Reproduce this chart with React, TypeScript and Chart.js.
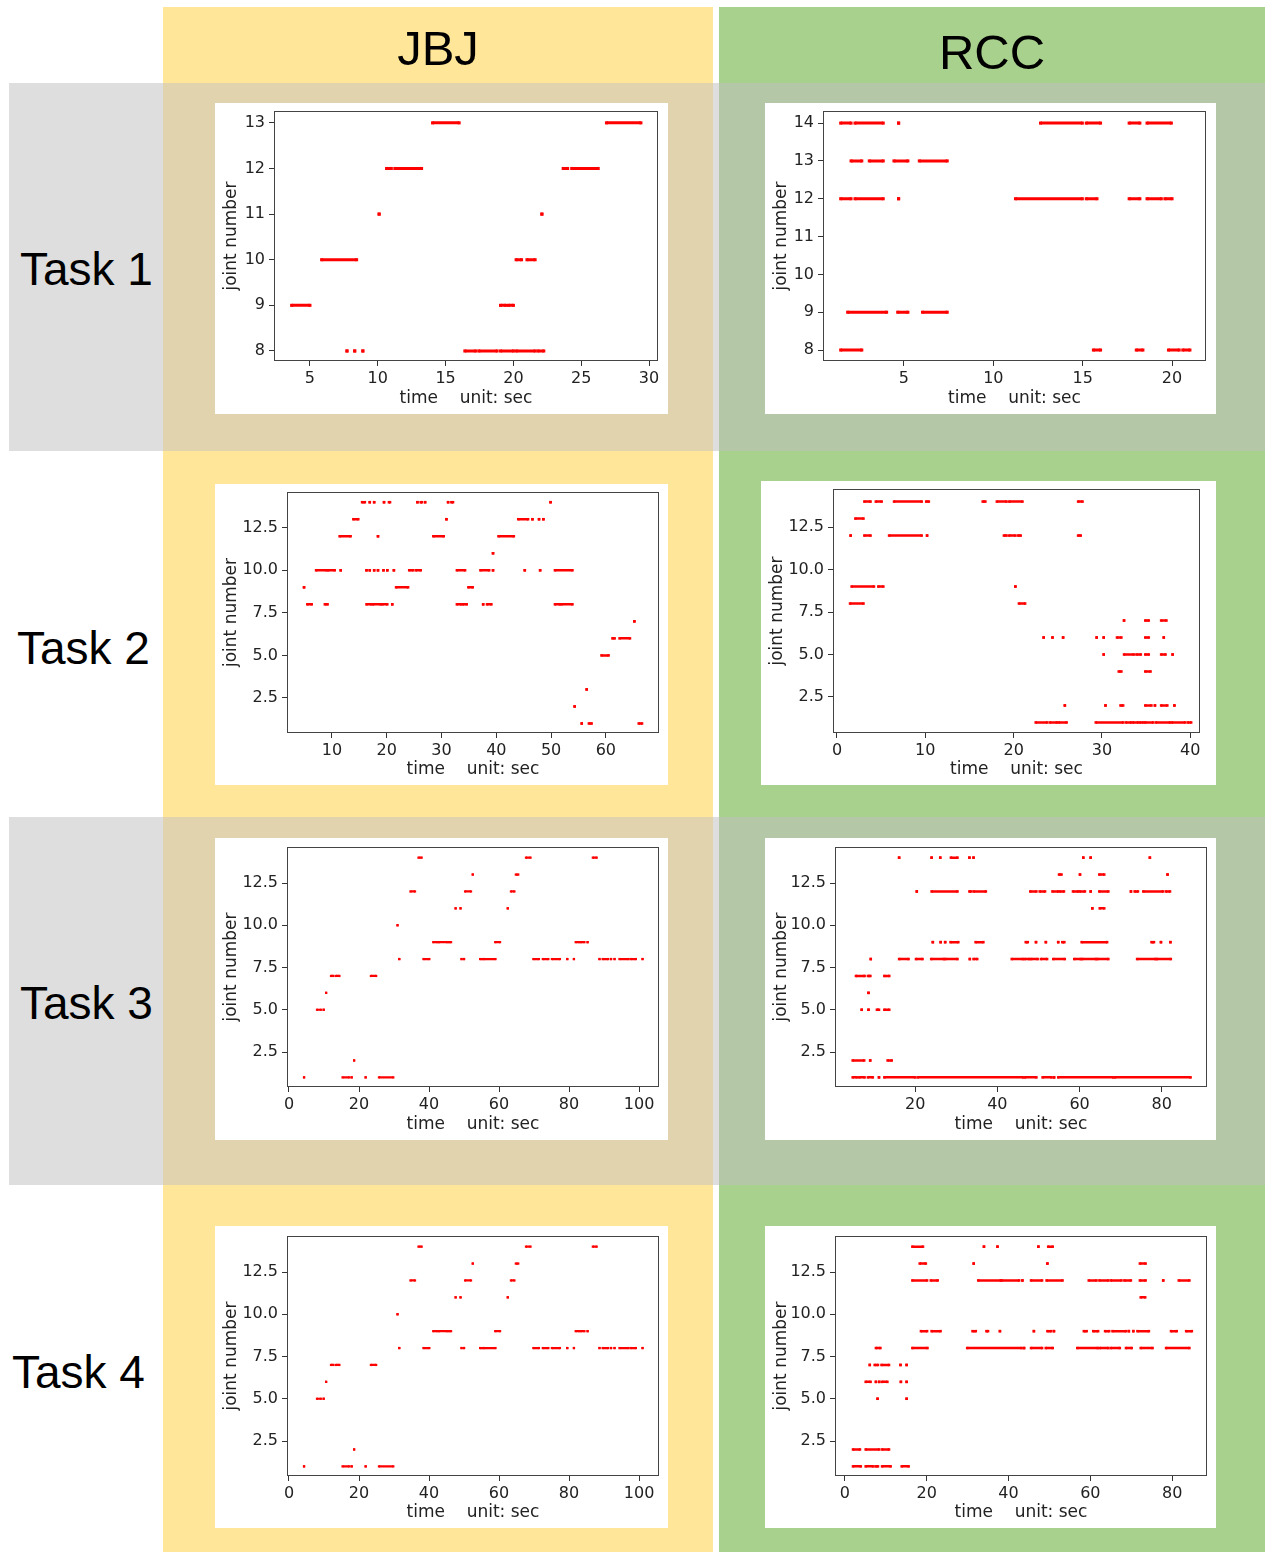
import React, { useEffect, useRef } from "react";
import { Chart, registerables } from "chart.js";
Chart.register(...registerables);

type Seg = [number, number, number]; // [joint, start time, end time]

// ---------- Task 1 / JBJ ----------
const task1JbjSegments: Seg[] = [
  [13, 14.04, 16.0], [13, 26.86, 29.4],
  [12, 10.65, 11.0], [12, 11.26, 13.23], [12, 23.67, 24.0], [12, 24.3, 26.25],
  [11, 10.1, 10.1], [11, 22.1, 22.1],
  [10, 5.86, 8.44], [10, 20.2, 20.6], [10, 21.0, 21.6],
  [9, 3.65, 5.0], [9, 19.05, 19.44], [9, 19.64, 20.0],
  [8, 7.73, 7.73], [8, 8.3, 8.3], [8, 8.9, 8.9], [8, 16.42, 17.23], [8, 17.45, 18.8],
  [8, 19.05, 20.0], [8, 20.2, 21.6], [8, 21.8, 22.24],
];
const task1JbjXTicks = [5, 10, 15, 20, 25, 30];
const task1JbjYTicks = [8, 9, 10, 11, 12, 13];

// ---------- Task 1 / RCC ----------
const task1RccSegments: Seg[] = [
  [14, 1.46, 2.04], [14, 2.26, 3.84], [14, 4.7, 4.7], [14, 12.64, 14.98], [14, 15.2, 16.0], [14, 17.6, 18.2], [14, 18.6, 19.96],
  [13, 2.04, 2.64], [13, 3.06, 3.84], [13, 4.44, 5.22], [13, 5.86, 7.42],
  [12, 1.46, 2.04], [12, 2.26, 3.84], [12, 4.7, 4.7], [12, 11.24, 14.98], [12, 15.2, 15.8], [12, 17.6, 18.2], [12, 18.6, 19.4], [12, 19.6, 20.0],
  [9, 1.85, 4.03], [9, 4.65, 5.22], [9, 6.04, 7.42],
  [8, 1.46, 2.64], [8, 15.6, 16.0], [8, 18.0, 18.37], [8, 19.8, 20.4], [8, 20.6, 21.0],
];
const task1RccXTicks = [5, 10, 15, 20];
const task1RccYTicks = [8, 9, 10, 11, 12, 13, 14];

// ---------- Task 2 / JBJ ----------
const task2JbjSegments: Seg[] = [
  [14, 15.5, 16.0], [14, 16.9, 16.9], [14, 17.7, 17.7], [14, 19.5, 19.5], [14, 20.4, 20.6], [14, 25.6, 25.6],
  [14, 26.2, 26.4], [14, 27.0, 27.0], [14, 31.2, 31.2], [14, 31.8, 32.1], [14, 49.9, 49.9],
  [13, 13.9, 14.8], [13, 30.9, 30.9], [13, 44.0, 45.8], [13, 46.6, 46.6], [13, 47.8, 47.8], [13, 48.6, 48.6],
  [12, 11.4, 13.4], [12, 18.4, 18.4], [12, 28.5, 30.4], [12, 40.4, 43.2],
  [11, 39.4, 39.4],
  [10, 7.1, 9.0], [10, 9.3, 10.5], [10, 11.6, 11.6], [10, 16.3, 16.3], [10, 16.9, 16.9], [10, 17.7, 17.7],
  [10, 18.4, 18.4], [10, 19.4, 19.4], [10, 20.1, 20.1], [10, 21.3, 21.3], [10, 24.1, 24.8], [10, 25.3, 26.2],
  [10, 32.8, 34.3], [10, 37.1, 38.7], [10, 39.4, 39.4], [10, 45.2, 45.2], [10, 48.0, 48.0], [10, 50.7, 53.9],
  [9, 4.9, 4.9], [9, 21.7, 23.9], [9, 34.9, 35.7],
  [8, 5.5, 6.3], [8, 8.7, 9.2], [8, 16.3, 17.2], [8, 17.5, 18.9], [8, 19.2, 20.1], [8, 21.0, 21.0],
  [8, 32.8, 33.6], [8, 33.9, 34.6], [8, 37.6, 37.6], [8, 38.3, 39.1], [8, 50.7, 51.6], [8, 51.9, 53.9],
  [7, 65.2, 65.2],
  [6, 61.2, 61.6], [6, 62.5, 64.4],
  [5, 59.2, 60.5],
  [3, 56.5, 56.5],
  [2, 54.3, 54.3],
  [1, 55.6, 55.6], [1, 56.9, 57.4], [1, 66.0, 66.6],
];
const task2JbjXTicks = [10, 20, 30, 40, 50, 60];
const halfYTicks = [2.5, 5.0, 7.5, 10.0, 12.5];

// ---------- Task 2 / RCC ----------
const task2RccSegments: Seg[] = [
  [14, 3.1, 3.8], [14, 4.4, 5.06], [14, 6.46, 9.59], [14, 10.1, 10.4], [14, 16.5, 16.8], [14, 18.1, 19.2], [14, 19.5, 21.0], [14, 27.3, 27.8],
  [13, 2.08, 3.0],
  [12, 1.55, 1.55], [12, 3.1, 3.8], [12, 5.9, 9.59], [12, 10.2, 10.2], [12, 18.9, 19.2], [12, 19.5, 20.2], [12, 20.5, 20.8], [12, 27.3, 27.6],
  [9, 1.66, 4.19], [9, 4.68, 5.25], [9, 20.2, 20.2],
  [8, 1.48, 3.0], [8, 20.6, 21.3],
  [7, 32.5, 32.5], [7, 34.9, 35.3], [7, 36.7, 37.3],
  [6, 23.4, 23.4], [6, 24.4, 24.4], [6, 25.6, 25.6], [6, 29.4, 29.4], [6, 30.2, 30.2], [6, 31.7, 32.2], [6, 34.9, 35.3], [6, 37.0, 37.0],
  [5, 30.2, 30.2], [5, 32.5, 33.6], [5, 33.9, 34.4], [5, 34.9, 35.3], [5, 36.7, 37.2], [5, 38.0, 38.0],
  [4, 31.9, 32.2], [4, 34.9, 35.5],
  [2, 25.8, 25.8], [2, 30.4, 30.4], [2, 32.1, 32.4], [2, 34.9, 35.6], [2, 36.0, 36.0], [2, 36.7, 37.4], [2, 38.2, 38.2],
  [1, 22.5, 23.8], [1, 24.1, 24.9], [1, 25.1, 26.0], [1, 29.3, 32.4], [1, 32.7, 33.3], [1, 33.5, 34.1], [1, 34.3, 34.7],
  [1, 34.9, 35.8], [1, 36.1, 37.7], [1, 37.9, 39.4], [1, 39.7, 40.1],
];
const task2RccXTicks = [0, 10, 20, 30, 40];

// ---------- Task 3 / JBJ (Task 4 / JBJ shows the same recording) ----------
const task3JbjSegments: Seg[] = [
  [14, 37.0, 37.9], [14, 67.7, 69.0], [14, 86.8, 87.9],
  [13, 52.5, 52.5], [13, 64.8, 65.5],
  [12, 34.7, 36.0], [12, 50.3, 52.0], [12, 63.4, 64.4],
  [11, 47.6, 47.6], [11, 49.0, 49.0], [11, 62.5, 62.5],
  [10, 31.0, 31.0],
  [9, 41.2, 42.4], [9, 42.8, 45.2], [9, 45.6, 46.3], [9, 58.9, 60.3], [9, 81.9, 83.0], [9, 83.4, 84.4], [9, 85.3, 85.3],
  [8, 31.5, 31.5], [8, 38.4, 40.1], [8, 49.3, 49.3], [8, 50.0, 50.0], [8, 54.6, 55.5], [8, 55.8, 59.0],
  [8, 69.8, 71.4], [8, 72.5, 74.1], [8, 75.1, 77.4], [8, 79.5, 79.5], [8, 81.4, 81.4], [8, 88.7, 88.7],
  [8, 89.6, 91.2], [8, 92.0, 92.0], [8, 93.0, 93.0], [8, 94.4, 97.0], [8, 97.6, 99.1], [8, 101.0, 101.0],
  [7, 12.0, 12.7], [7, 13.4, 14.4], [7, 23.4, 24.9],
  [6, 10.6, 10.6],
  [5, 8.0, 9.1], [5, 9.9, 9.9],
  [2, 18.6, 18.6],
  [1, 4.3, 4.3], [1, 15.3, 17.2], [1, 17.9, 17.9], [1, 21.9, 21.9], [1, 25.7, 29.8],
];
const task4JbjSegments: Seg[] = task3JbjSegments;
const jbjLongXTicks = [0, 20, 40, 60, 80, 100];

// ---------- Task 3 / RCC ----------
const task3RccSegments: Seg[] = [
  [14, 16.1, 16.1], [14, 24.0, 24.0], [14, 26.1, 26.1], [14, 28.7, 30.3], [14, 33.2, 33.2], [14, 34.2, 34.2],
  [14, 60.9, 60.9], [14, 62.7, 62.7], [14, 77.1, 77.1],
  [13, 55.0, 55.6], [13, 60.1, 60.1], [13, 64.8, 66.0], [13, 81.4, 81.4],
  [12, 20.4, 20.4], [12, 24.0, 30.3], [12, 33.2, 33.6], [12, 34.2, 37.2], [12, 48.0, 49.5], [12, 50.3, 51.6],
  [12, 53.4, 54.8], [12, 55.2, 56.2], [12, 58.4, 59.6], [12, 60.0, 61.3], [12, 62.7, 62.7], [12, 64.8, 67.0],
  [12, 72.5, 72.5], [12, 73.4, 74.2], [12, 75.5, 80.3], [12, 81.0, 82.0],
  [11, 63.1, 63.1], [11, 64.9, 66.0],
  [9, 24.3, 24.3], [9, 26.2, 26.2], [9, 27.3, 27.3], [9, 28.6, 30.5], [9, 34.7, 36.6], [9, 46.9, 47.4],
  [9, 49.4, 49.4], [9, 51.8, 51.8], [9, 54.8, 54.8], [9, 55.8, 56.3], [9, 60.5, 66.7], [9, 77.5, 78.1],
  [9, 79.8, 79.8], [9, 82.1, 82.1],
  [8, 9.2, 9.2], [8, 16.1, 18.4], [8, 20.2, 21.8], [8, 23.9, 27.0], [8, 27.3, 30.3], [8, 33.3, 33.3],
  [8, 34.2, 35.1], [8, 43.5, 46.2], [8, 46.6, 47.8], [8, 48.2, 49.8], [8, 50.6, 52.1], [8, 53.6, 56.4],
  [8, 58.7, 60.3], [8, 60.6, 64.0], [8, 64.3, 67.0], [8, 74.0, 78.5], [8, 78.8, 82.2],
  [7, 5.6, 7.7], [7, 8.5, 9.1], [7, 12.5, 13.7],
  [6, 8.65, 8.65],
  [5, 7.0, 7.0], [5, 8.65, 8.65], [5, 10.7, 11.2], [5, 12.5, 13.7],
  [2, 4.8, 7.6], [2, 9.06, 9.06], [2, 13.3, 14.3],
  [1, 4.8, 5.8], [1, 6.4, 7.7], [1, 8.5, 9.7], [1, 11.2, 11.2], [1, 12.5, 20.0], [1, 20.6, 46.3], [1, 46.7, 49.5],
  [1, 51.0, 53.2], [1, 53.8, 53.8], [1, 54.8, 68.2], [1, 68.6, 87.0],
];
const task3RccXTicks = [20, 40, 60, 80];

// ---------- Task 4 / RCC ----------
const task4RccSegments: Seg[] = [
  [14, 16.5, 19.1], [14, 34.0, 34.0], [14, 37.3, 37.3], [14, 47.3, 47.3], [14, 49.7, 50.8],
  [13, 18.3, 19.8], [13, 31.5, 31.5], [13, 49.5, 49.5], [13, 72.1, 73.5],
  [12, 16.5, 20.1], [12, 21.0, 22.7], [12, 32.6, 38.1], [12, 38.3, 42.6], [12, 43.4, 43.4], [12, 45.5, 48.2],
  [12, 49.3, 53.2], [12, 59.6, 61.5], [12, 62.2, 64.4], [12, 65.0, 67.6], [12, 68.3, 69.9], [12, 72.1, 73.5],
  [12, 77.8, 77.8], [12, 81.6, 84.2],
  [11, 72.3, 73.4],
  [9, 18.6, 20.1], [9, 21.2, 23.4], [9, 31.2, 32.0], [9, 34.6, 35.0], [9, 37.9, 37.9], [9, 46.2, 46.2],
  [9, 49.5, 50.4], [9, 51.1, 51.1], [9, 58.4, 59.1], [9, 60.7, 61.9], [9, 63.6, 64.6], [9, 65.4, 68.7],
  [9, 69.4, 69.4], [9, 70.5, 70.5], [9, 71.5, 74.3], [9, 79.7, 81.1], [9, 83.4, 84.8],
  [8, 7.6, 8.7], [8, 16.5, 20.2], [8, 29.9, 43.2], [8, 43.8, 43.8], [8, 45.5, 48.2], [8, 49.1, 50.8],
  [8, 56.8, 61.8], [8, 62.3, 64.4], [8, 65.0, 67.2], [8, 68.7, 70.1], [8, 72.3, 75.2], [8, 78.5, 84.2],
  [7, 6.1, 6.1], [7, 7.3, 8.1], [7, 8.96, 10.8], [7, 13.6, 13.6], [7, 15.1, 15.1],
  [6, 5.1, 6.3], [6, 7.6, 7.6], [6, 8.4, 8.4], [6, 9.1, 10.4], [6, 13.7, 13.7], [6, 15.1, 15.1],
  [5, 8.0, 8.0], [5, 15.1, 15.1],
  [2, 2.0, 3.7], [2, 5.1, 8.4], [2, 9.1, 10.8],
  [1, 2.0, 3.9], [1, 5.1, 6.9], [1, 7.5, 8.1], [1, 9.1, 11.2], [1, 13.9, 15.6],
];
const task4RccXTicks = [0, 20, 40, 60, 80];

// ---------- layout of the eight panels ----------
type PanelCfg = {
  box: [number, number, number, number]; // left, top, width, height (white card)
  plot: [number, number, number, number]; // left, top, right, bottom of axes box
  x: [number, number];
  y: [number, number];
  xTicks: number[];
  yTicks: number[];
  yDec: number;
  segs: Seg[];
  lw: number;
};

const PANELS: PanelCfg[] = [
  { box: [215, 103, 453, 311], plot: [274, 111, 658, 361], x: [2.35, 30.66], y: [7.78, 13.26], xTicks: task1JbjXTicks, yTicks: task1JbjYTicks, yDec: 0, segs: task1JbjSegments, lw: 3 },
  { box: [765, 103, 451, 311], plot: [823, 111, 1206, 361], x: [0.47, 21.9], y: [7.71, 14.32], xTicks: task1RccXTicks, yTicks: task1RccYTicks, yDec: 0, segs: task1RccSegments, lw: 3 },
  { box: [215, 484, 453, 301], plot: [287, 492, 659, 733], x: [1.79, 69.7], y: [0.44, 14.6], xTicks: task2JbjXTicks, yTicks: halfYTicks, yDec: 1, segs: task2JbjSegments, lw: 2.5 },
  { box: [761, 481, 455, 304], plot: [833, 489, 1200, 733], x: [-0.45, 41.1], y: [0.38, 14.74], xTicks: task2RccXTicks, yTicks: halfYTicks, yDec: 1, segs: task2RccSegments, lw: 2.5 },
  { box: [215, 838, 453, 302], plot: [287, 847, 659, 1087], x: [-0.57, 105.7], y: [0.43, 14.63], xTicks: jbjLongXTicks, yTicks: halfYTicks, yDec: 1, segs: task3JbjSegments, lw: 2.2 },
  { box: [765, 838, 451, 302], plot: [835, 847, 1207, 1087], x: [0.5, 91.0], y: [0.43, 14.63], xTicks: task3RccXTicks, yTicks: halfYTicks, yDec: 1, segs: task3RccSegments, lw: 2.5 },
  { box: [215, 1226, 453, 302], plot: [287, 1236, 659, 1476], x: [-0.57, 105.7], y: [0.43, 14.63], xTicks: jbjLongXTicks, yTicks: halfYTicks, yDec: 1, segs: task4JbjSegments, lw: 2.2 },
  { box: [765, 1226, 451, 302], plot: [835, 1236, 1207, 1476], x: [-2.4, 88.5], y: [0.43, 14.63], xTicks: task4RccXTicks, yTicks: halfYTicks, yDec: 1, segs: task4RccSegments, lw: 2.5 },
];

function toPoints(segs: Seg[]) {
  const pts: { x: number; y: number | null }[] = [];
  segs.forEach(([j, s, e]) => {
    pts.push({ x: s, y: j });
    pts.push({ x: e, y: j });
    pts.push({ x: e, y: null });
  });
  return pts;
}

const framePlugin = {
  id: "frame",
  afterDraw(chart: any) {
    const { ctx, chartArea: a } = chart;
    ctx.save();
    ctx.strokeStyle = "#444";
    ctx.lineWidth = 1;
    const l = Math.round(a.left) + 0.5;
    const t = Math.round(a.top) + 0.5;
    const r = Math.round(a.right) - 0.5;
    const b = Math.round(a.bottom) - 0.5;
    ctx.strokeRect(l, t, r - l, b - t);
    ctx.restore();
  },
};

const TICK_FONT = { family: "'DejaVu Sans', sans-serif", size: 16 };
const TITLE_FONT = { family: "'DejaVu Sans', sans-serif", size: 17 };

function Panel({ cfg }: { cfg: PanelCfg }) {
  const ref = useRef<HTMLCanvasElement | null>(null);
  const [bx, by, bw, bh] = cfg.box;
  useEffect(() => {
    const [pl, pt, pr, pb] = cfg.plot;
    const zeroPad = (s: any) => {
      s.paddingTop = 0;
      s.paddingBottom = 0;
      s.paddingLeft = 0;
      s.paddingRight = 0;
    };
    const chart = new Chart(ref.current as HTMLCanvasElement, {
      type: "scatter",
      data: {
        datasets: [
          {
            data: toPoints(cfg.segs) as any,
            showLine: true,
            spanGaps: false,
            borderColor: "#ff0000",
            backgroundColor: "#ff0000",
            borderWidth: cfg.lw,
            borderCapStyle: "butt",
            pointStyle: "rect",
            pointRadius: cfg.lw * 0.72,
            pointBorderWidth: 0,
            pointHoverRadius: 0,
            tension: 0,
          } as any,
        ],
      },
      options: {
        responsive: false,
        animation: false,
        devicePixelRatio: 1,
        events: [],
        layout: { padding: { left: 0, top: pt - by, right: bx + bw - pr, bottom: 0 } },
        plugins: { legend: { display: false }, tooltip: { enabled: false } },
        scales: {
          x: {
            type: "linear",
            position: "bottom",
            min: cfg.x[0],
            max: cfg.x[1],
            bounds: "data",
            afterBuildTicks: (s: any) => {
              s.ticks = cfg.xTicks.map((v) => ({ value: v }));
            },
            afterFit: (s: any) => {
              s.height = by + bh - pb;
              zeroPad(s);
            },
            grid: { display: true, drawOnChartArea: false, drawTicks: true, tickLength: 5, tickColor: "#333", tickWidth: 1 },
            border: { display: false },
            ticks: {
              font: TICK_FONT,
              color: "#222",
              padding: 3,
              maxRotation: 0,
              autoSkip: false,
              callback: (v: any) => String(v),
            },
            title: { display: true, text: "time    unit: sec", font: TITLE_FONT, color: "#222", padding: { top: 0, bottom: 5 } },
          },
          y: {
            type: "linear",
            position: "left",
            min: cfg.y[0],
            max: cfg.y[1],
            bounds: "data",
            afterBuildTicks: (s: any) => {
              s.ticks = cfg.yTicks.map((v) => ({ value: v }));
            },
            afterFit: (s: any) => {
              s.width = pl - bx;
              zeroPad(s);
            },
            grid: { display: true, drawOnChartArea: false, drawTicks: true, tickLength: 5, tickColor: "#333", tickWidth: 1 },
            border: { display: false },
            ticks: {
              font: TICK_FONT,
              color: "#222",
              padding: 4,
              autoSkip: false,
              callback: (v: any) => Number(v).toFixed(cfg.yDec),
            },
            title: { display: true, text: "joint number", font: TITLE_FONT, color: "#222", padding: { top: 6, bottom: 0 } },
          },
        },
      } as any,
      plugins: [framePlugin],
    });
    return () => chart.destroy();
  }, []);
  return (
    <div style={{ position: "absolute", left: bx, top: by, width: bw, height: bh, background: "#fff" }}>
      <canvas ref={ref} width={bw} height={bh} style={{ display: "block", width: bw, height: bh }} />
    </div>
  );
}

const YELLOW = "#FFE699";
const GREEN = "#A9D18E";
const GRAY = "#DEDEDE";
const YELLOW_GRAY = "#E0D3AE";
const GREEN_GRAY = "#B4C8A7";

const ROWS: [number, number, boolean][] = [
  [83, 451, true],
  [451, 817, false],
  [817, 1185, true],
  [1185, 1552, false],
];

function Rect({ x, y, w, h, c }: { x: number; y: number; w: number; h: number; c: string }) {
  return <div style={{ position: "absolute", left: x, top: y, width: w, height: h, background: c }} />;
}

const LABEL_FONT = "'Liberation Sans', Arial, sans-serif";

function Label({ text, left, top, size, width, center }: { text: string; left: number; top: number; size: number; width?: number; center?: boolean }) {
  return (
    <div
      style={{
        position: "absolute",
        left,
        top,
        width: width,
        textAlign: center ? "center" : "left",
        fontFamily: LABEL_FONT,
        fontSize: size,
        lineHeight: `${size}px`,
        color: "#000",
        whiteSpace: "nowrap",
      }}
    >
      {text}
    </div>
  );
}

export default function App() {
  return (
    <div style={{ position: "absolute", left: 0, top: 0, width: 1266, height: 1552, background: "#fff", overflow: "hidden" }}>
      <Rect x={163} y={7} w={550} h={76} c={YELLOW} />
      <Rect x={719} y={7} w={546} h={76} c={GREEN} />
      {ROWS.map(([y0, y1, gray], i) =>
        gray ? (
          <React.Fragment key={i}>
            <Rect x={9} y={y0} w={1256} h={y1 - y0} c={GRAY} />
            <Rect x={163} y={y0} w={550} h={y1 - y0} c={YELLOW_GRAY} />
            <Rect x={719} y={y0} w={546} h={y1 - y0} c={GREEN_GRAY} />
          </React.Fragment>
        ) : (
          <React.Fragment key={i}>
            <Rect x={163} y={y0} w={550} h={y1 - y0} c={YELLOW} />
            <Rect x={719} y={y0} w={546} h={y1 - y0} c={GREEN} />
          </React.Fragment>
        )
      )}
      <Label text="JBJ" left={163} top={24} size={49} width={550} center />
      <Label text="RCC" left={719} top={28} size={49} width={546} center />
      <Label text="Task 1" left={20} top={246} size={46} />
      <Label text="Task 2" left={17} top={625} size={46} />
      <Label text="Task 3" left={20} top={980} size={46} />
      <Label text="Task 4" left={12} top={1349} size={46} />
      {PANELS.map((p, i) => (
        <Panel key={i} cfg={p} />
      ))}
    </div>
  );
}
